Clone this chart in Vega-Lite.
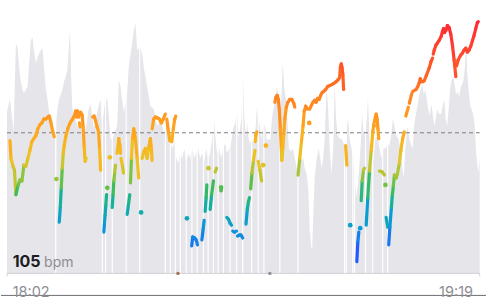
{
 "$schema": "https://vega.github.io/schema/vega-lite/v6.json",
 "width": 487, "height": 300,
 "autosize": {"type": "fit", "contains": "padding"},
 "padding": 0,
 "background": "#ffffff",
 "config": {"view": {"stroke": null}},
 "datasets": {
  "range": [
   {"i":0,"v":143.5},{"i":0.5,"v":146},{"i":1.5,"v":150},{"i":2.5,"v":141},{"i":3.35,"v":133.5},{"i":4,"v":160},{"i":4.5,"v":178.5},{"i":5.35,"v":176},{"i":6,"v":167.5},{"i":7,"v":158.5},{"i":8,"v":154},{"i":8.65,"v":153.5},{"i":9.5,"v":155},{"i":10.35,"v":156.5},{"i":11.25,"v":170},{"i":12,"v":180},{"i":12.85,"v":181.5},{"i":13.5,"v":175},{"i":14.5,"v":168.5},{"i":15.35,"v":171},{"i":16.25,"v":173.5},{"i":17,"v":175},{"i":17.85,"v":176},{"i":18.65,"v":165},{"i":19.5,"v":155},{"i":20.35,"v":150},{"i":21.15,"v":143.5},{"i":22,"v":137.5},{"i":23,"v":135},{"i":24,"v":133.5},{"i":25,"v":142.5},{"i":26.15,"v":150},{"i":27,"v":152.5},{"i":27.85,"v":155},{"i":28.65,"v":159},{"i":29.5,"v":161.5},{"i":30.35,"v":165},{"i":31,"v":175},{"i":31.65,"v":185},{"i":32.25,"v":160},{"i":32.85,"v":145},{"i":34,"v":141},{"i":35,"v":137.5},{"i":36,"v":135},{"i":37,"v":139},{"i":38,"v":136},{"i":39,"v":132.5},{"i":40,"v":137.5},{"i":41,"v":145},{"i":42,"v":147.5},{"i":42.75,"v":141},{"i":43.65,"v":135},{"i":44.5,"v":140},{"i":45.35,"v":143.5},{"i":46.25,"v":147.5},{"i":47,"v":150},{"i":47.85,"v":135},{"i":48.75,"v":145},{"i":49.5,"v":150},{"i":50.35,"v":150},{"i":51.25,"v":140},{"i":52,"v":130},{"i":53,"v":130},{"i":54,"v":132.5},{"i":55.35,"v":136.5},{"i":56.15,"v":160},{"i":57,"v":156.5},{"i":57.75,"v":150},{"i":58.65,"v":143.5},{"i":59.5,"v":147.5},{"i":60.35,"v":153.5},{"i":61.15,"v":166.5},{"i":62,"v":172.5},{"i":62.85,"v":178.5},{"i":63.65,"v":185},{"i":64.5,"v":188.5},{"i":65.35,"v":175},{"i":66.15,"v":176},{"i":67,"v":176.5},{"i":67.85,"v":172.5},{"i":68.65,"v":166.5},{"i":69.5,"v":161.5},{"i":70.35,"v":156.5},{"i":71.25,"v":151},{"i":72,"v":146.5},{"i":72.85,"v":146},{"i":73.65,"v":145},{"i":74.5,"v":141},{"i":75.35,"v":136.5},{"i":76.15,"v":137.5},{"i":77,"v":140},{"i":78,"v":136},{"i":79,"v":132.5},{"i":80,"v":137.5},{"i":81,"v":135},{"i":82,"v":130},{"i":83,"v":125},{"i":84,"v":127.5},{"i":84.5,"v":128.5},{"i":85,"v":120},{"i":86,"v":117.5},{"i":87,"v":122.5},{"i":88,"v":120},{"i":89,"v":125},{"i":90,"v":117.5},{"i":91,"v":122.5},{"i":92,"v":120},{"i":93,"v":125},{"i":94,"v":120},{"i":95,"v":122.5},{"i":96,"v":125},{"i":97,"v":120},{"i":98,"v":122.5},{"i":99,"v":117.5},{"i":100,"v":125},{"i":101,"v":120},{"i":102,"v":122.5},{"i":103,"v":130},{"i":104,"v":138.5},{"i":104.75,"v":130},{"i":105.5,"v":122.5},{"i":106.5,"v":125},{"i":107.5,"v":120},{"i":108.5,"v":125},{"i":109.5,"v":127.5},{"i":110.5,"v":122.5},{"i":111.5,"v":125},{"i":112.5,"v":127.5},{"i":113.5,"v":135},{"i":114.5,"v":137.5},{"i":115.5,"v":143.5},{"i":116.25,"v":130},{"i":117,"v":135},{"i":117.75,"v":140},{"i":118.5,"v":161.5},{"i":119.25,"v":140},{"i":120,"v":130},{"i":120.5,"v":138.5},{"i":121.25,"v":130},{"i":122,"v":127.5},{"i":123,"v":130},{"i":124,"v":127.5},{"i":125,"v":137.5},{"i":125.5,"v":146},{"i":126.25,"v":140},{"i":127,"v":136},{"i":127.75,"v":130},{"i":128.5,"v":135},{"i":129.5,"v":137.5},{"i":130.5,"v":129},{"i":131.5,"v":130},{"i":132.25,"v":129},{"i":133,"v":140},{"i":133.75,"v":145},{"i":134.5,"v":148.5},{"i":135,"v":152.5},{"i":135.5,"v":156.5},{"i":136.25,"v":150},{"i":137,"v":143.5},{"i":137.75,"v":150},{"i":138.5,"v":168.5},{"i":139.25,"v":155},{"i":140,"v":150},{"i":140.75,"v":140},{"i":141.5,"v":125},{"i":142.5,"v":123.5},{"i":143.5,"v":125},{"i":144.5,"v":120},{"i":145.5,"v":115},{"i":146.25,"v":110},{"i":147,"v":120},{"i":148,"v":119},{"i":148.75,"v":120},{"i":149.5,"v":115},{"i":150.5,"v":111.5},{"i":151.25,"v":105},{"i":152,"v":83.5},{"i":152.75,"v":75},{"i":153.25,"v":73.5},{"i":153.75,"v":90},{"i":154.5,"v":110},{"i":155.5,"v":120},{"i":156.5,"v":125},{"i":157.25,"v":120},{"i":158,"v":115},{"i":158.75,"v":120},{"i":159.5,"v":130},{"i":160.5,"v":156.5},{"i":161.25,"v":145},{"i":162,"v":125},{"i":163,"v":111.5},{"i":164,"v":130},{"i":164.5,"v":158.5},{"i":165.25,"v":140},{"i":166,"v":131.5},{"i":167,"v":130},{"i":168,"v":130},{"i":169,"v":127.5},{"i":169.75,"v":125},{"i":170.5,"v":135},{"i":171.25,"v":140},{"i":172,"v":130},{"i":173,"v":125},{"i":173.75,"v":120},{"i":174.5,"v":110},{"i":175.5,"v":100},{"i":176.5,"v":110},{"i":177.5,"v":125},{"i":178.25,"v":142.5},{"i":179,"v":132.5},{"i":180,"v":135},{"i":180.75,"v":140},{"i":181.25,"v":151},{"i":182,"v":130},{"i":183,"v":115},{"i":184,"v":120},{"i":185,"v":130},{"i":186,"v":131.5},{"i":187,"v":125},{"i":188,"v":120},{"i":189,"v":125},{"i":190,"v":125},{"i":191,"v":126.5},{"i":192,"v":126.5},{"i":193,"v":132.5},{"i":193.75,"v":140},{"i":194.5,"v":136.5},{"i":195.5,"v":131.5},{"i":196.5,"v":130},{"i":197.5,"v":125},{"i":198.5,"v":115},{"i":199.25,"v":110},{"i":200,"v":125},{"i":201,"v":136.5},{"i":202,"v":130},{"i":203,"v":126.5},{"i":203.75,"v":125},{"i":204.5,"v":137.5},{"i":205.5,"v":143.5},{"i":206.25,"v":147.5},{"i":207,"v":152.5},{"i":207.75,"v":155},{"i":208.5,"v":157.5},{"i":209.25,"v":152.5},{"i":210,"v":155},{"i":210.75,"v":150},{"i":211.5,"v":145},{"i":212.25,"v":141.5},{"i":213,"v":147.5},{"i":213.75,"v":142.5},{"i":214.5,"v":136.5},{"i":215.25,"v":140},{"i":216,"v":145},{"i":217,"v":142.5},{"i":218,"v":142.5},{"i":218.75,"v":146.5},{"i":219.5,"v":150},{"i":220.25,"v":140},{"i":221,"v":136.5},{"i":221.75,"v":145},{"i":222.5,"v":155},{"i":223.25,"v":160},{"i":224,"v":161.5},{"i":224.75,"v":157.5},{"i":225.5,"v":152.5},{"i":226.25,"v":154},{"i":227,"v":151},{"i":227.75,"v":156},{"i":228.5,"v":157.5},{"i":229.25,"v":160},{"i":230,"v":167.5},{"i":230.5,"v":180},{"i":231,"v":165},{"i":231.75,"v":155},{"i":232.5,"v":147.5},{"i":233.25,"v":145},{"i":234,"v":142.5},{"i":234.75,"v":137.5},{"i":235.5,"v":123.5},{"i":236.25,"v":116},{"i":236.75,"v":112.5},{"i":237.35,"v":120}
  ],
  "gaps": [
   {"i":24.5},{"i":47.85},{"i":49.5},{"i":52.85},{"i":59.85},{"i":66.65},{"i":79.5},{"i":82},{"i":84.5},{"i":87},{"i":90},{"i":92.85},{"i":95.5},{"i":98.65},{"i":101},{"i":103.65},{"i":106},{"i":108.65},{"i":112},{"i":115.35},{"i":118.35},{"i":122.85},{"i":126.15},{"i":129},{"i":137},{"i":146.15},{"i":169.5},{"i":170.35},{"i":173.65},{"i":174.5},{"i":180},{"i":183.65},{"i":188.65},{"i":191.15}
  ],
  "hr": [
   {"s":1,"i":1.5,"v":129},{"s":1,"i":2,"v":120},{"s":1,"i":3,"v":116},{"s":1,"i":3.75,"v":114},{"s":1,"i":4.5,"v":101.5},{"s":1,"i":5.5,"v":106},{"s":1,"i":6.5,"v":109},{"s":1,"i":7.5,"v":108.5},{"s":1,"i":8.5,"v":116.5},{"s":1,"i":9.5,"v":116},{"s":1,"i":10.5,"v":120},{"s":1,"i":11.5,"v":124},{"s":1,"i":12.5,"v":128.5},{"s":1,"i":13.5,"v":130},{"s":1,"i":14.5,"v":131.5},{"s":1,"i":15.5,"v":135},{"s":1,"i":16.5,"v":137},{"s":1,"i":17.5,"v":138},{"s":1,"i":18.5,"v":140},{"s":1,"i":19.5,"v":140},{"s":1,"i":20.5,"v":141},{"s":1,"i":21.25,"v":141.5},{"s":1,"i":22,"v":138.5},{"s":1,"i":23,"v":133.5},{"s":1,"i":23.75,"v":131},
   {"s":2,"i":26.25,"v":87.5},{"s":2,"i":26.75,"v":95},{"s":2,"i":27.25,"v":105},{"s":2,"i":27.75,"v":115},{"s":2,"i":28.25,"v":122.5},{"s":2,"i":28.75,"v":126.5},{"s":2,"i":29.5,"v":131},{"s":2,"i":30.5,"v":135},{"s":2,"i":31.5,"v":137.5},{"s":2,"i":32.25,"v":139},{"s":2,"i":33,"v":140},{"s":2,"i":33.5,"v":141},{"s":2,"i":34,"v":142},{"s":2,"i":34.5,"v":144},{"s":2,"i":35,"v":141},{"s":2,"i":35.5,"v":144},{"s":2,"i":36,"v":141},{"s":2,"i":36.5,"v":143},
   {"s":3,"i":36.35,"v":138},{"s":3,"i":36.65,"v":136},
   {"s":4,"i":37,"v":143.5},{"s":4,"i":37.75,"v":142},{"s":4,"i":38.25,"v":136},{"s":4,"i":38.75,"v":126},{"s":4,"i":39.25,"v":118.5},{"s":4,"i":39.75,"v":120},
   {"s":5,"i":43,"v":141},{"s":5,"i":43.75,"v":141.5},{"s":5,"i":44.5,"v":139},{"s":5,"i":45.25,"v":136},{"s":5,"i":46,"v":133.5},{"s":5,"i":46.5,"v":125},{"s":5,"i":47,"v":114},
   {"s":6,"i":48.65,"v":82.5},{"s":6,"i":48.95,"v":87},{"s":6,"i":49.25,"v":91},{"s":6,"i":49.6,"v":96},{"s":6,"i":50,"v":101.5},
   {"s":7,"i":52.85,"v":95},{"s":7,"i":53.25,"v":101.5},{"s":7,"i":53.65,"v":108.5},{"s":7,"i":54.1,"v":113},{"s":7,"i":54.5,"v":116.5},
   {"s":8,"i":55.25,"v":122.5},{"s":8,"i":56.15,"v":130},{"s":8,"i":56.75,"v":126},{"s":8,"i":57,"v":122.5},
   {"s":9,"i":57.25,"v":120},{"s":9,"i":58,"v":116},{"s":9,"i":58.5,"v":112.5},
   {"s":10,"i":60.35,"v":91.5},{"s":10,"i":61,"v":96.5},{"s":10,"i":61.65,"v":101.5},
   {"s":11,"i":62,"v":107.5},{"s":11,"i":62.5,"v":120},{"s":11,"i":63,"v":130},{"s":11,"i":63.65,"v":135},{"s":11,"i":64.5,"v":130},{"s":11,"i":65.35,"v":120},{"s":11,"i":66.15,"v":110},
   {"s":12,"i":67.85,"v":120},{"s":12,"i":68.75,"v":123.5},{"s":12,"i":69.5,"v":125},{"s":12,"i":70.35,"v":120},{"s":12,"i":71.25,"v":126},{"s":12,"i":72,"v":130},{"s":12,"i":72.5,"v":125},{"s":12,"i":72.85,"v":119},
   {"s":13,"i":72.9,"v":135},{"s":13,"i":73.65,"v":140},{"s":13,"i":74.5,"v":141},{"s":13,"i":75.5,"v":140.5},{"s":13,"i":76.5,"v":140},{"s":13,"i":77.5,"v":138},{"s":13,"i":78.5,"v":140},{"s":13,"i":79.5,"v":142.5},
   {"s":14,"i":80.25,"v":140},{"s":14,"i":81,"v":134},{"s":14,"i":81.75,"v":129},{"s":14,"i":82.75,"v":128.5},{"s":14,"i":83.5,"v":135},{"s":14,"i":84.25,"v":140},{"s":14,"i":84.75,"v":141.5},
   {"s":15,"i":92.75,"v":75.5},{"s":15,"i":93.25,"v":80},{"s":15,"i":94.25,"v":79.5},{"s":15,"i":95,"v":78.5},{"s":15,"i":95.65,"v":76},
   {"s":16,"i":97.85,"v":78.5},{"s":16,"i":98.5,"v":84},{"s":16,"i":99,"v":88.5},
   {"s":17,"i":99.5,"v":93},{"s":17,"i":100,"v":100},{"s":17,"i":100.35,"v":106.5},
   {"s":18,"i":102,"v":94},{"s":18,"i":102.75,"v":101.5},{"s":18,"i":103.65,"v":108.5},
   {"s":19,"i":104.5,"v":113},{"s":19,"i":105.25,"v":115},
   {"s":20,"i":107.15,"v":105.5},{"s":20,"i":107.5,"v":103.5},{"s":20,"i":107.85,"v":105.5},
   {"s":21,"i":110.35,"v":90},{"s":21,"i":111.25,"v":89},{"s":21,"i":112,"v":87},{"s":21,"i":112.75,"v":86},
   {"s":22,"i":113.35,"v":83},{"s":22,"i":114.25,"v":82.5},{"s":22,"i":115.25,"v":83},
   {"s":23,"i":115.75,"v":80.5},{"s":23,"i":116.75,"v":81},{"s":23,"i":117.5,"v":81},{"s":23,"i":118.35,"v":79.5},
   {"s":24,"i":120,"v":86.5},{"s":24,"i":120.65,"v":94},{"s":24,"i":121.25,"v":98},{"s":24,"i":121.75,"v":100},
   {"s":25,"i":122.35,"v":104.5},{"s":25,"i":123,"v":112.5},{"s":25,"i":123.75,"v":119},{"s":25,"i":124.5,"v":124},
   {"s":26,"i":124.65,"v":128.5},{"s":26,"i":125,"v":132},{"s":26,"i":125.5,"v":133.5},
   {"s":27,"i":126.15,"v":118.5},{"s":27,"i":127,"v":114},{"s":27,"i":127.85,"v":108.5},
   {"s":28,"i":134.5,"v":148.5},{"s":28,"i":135,"v":151},{"s":28,"i":135.65,"v":152},{"s":28,"i":136.25,"v":150},{"s":28,"i":136.75,"v":145},{"s":28,"i":137.25,"v":135},{"s":28,"i":137.75,"v":125},{"s":28,"i":138,"v":119},{"s":28,"i":138.5,"v":125},{"s":28,"i":139,"v":132.5},{"s":28,"i":139.5,"v":140},{"s":28,"i":140.25,"v":146},{"s":28,"i":141,"v":148.5},{"s":28,"i":142,"v":150},{"s":28,"i":143,"v":150},{"s":28,"i":144,"v":148},{"s":28,"i":144.5,"v":146},
   {"s":29,"i":146.15,"v":111.5},{"s":29,"i":147,"v":120},{"s":29,"i":147.85,"v":128.5},{"s":29,"i":148.65,"v":136.5},{"s":29,"i":149.25,"v":144},{"s":29,"i":150,"v":146.5},{"s":29,"i":150.85,"v":145},
   {"s":30,"i":152,"v":145},{"s":30,"i":152.85,"v":147},{"s":30,"i":153.65,"v":148.5},{"s":30,"i":154.5,"v":149.5},{"s":30,"i":155.25,"v":148.5},{"s":30,"i":156,"v":150.5},{"s":30,"i":156.75,"v":150},{"s":30,"i":157.5,"v":152},{"s":30,"i":158.25,"v":153.5},{"s":30,"i":159,"v":154},{"s":30,"i":160,"v":155},{"s":30,"i":161,"v":156.5},{"s":30,"i":162,"v":157},{"s":30,"i":163,"v":157.5},{"s":30,"i":164,"v":158},{"s":30,"i":165.25,"v":159},{"s":30,"i":166.25,"v":160},{"s":30,"i":167,"v":161},{"s":30,"i":167.4,"v":166.5},{"s":30,"i":167.85,"v":168},{"s":30,"i":168.25,"v":166},{"s":30,"i":168.65,"v":162.5},{"s":30,"i":169,"v":155},
   {"s":31,"i":170,"v":126.5},{"s":31,"i":170.65,"v":116.5},
   {"s":32,"i":175.65,"v":67.5},{"s":32,"i":176.15,"v":77.5},{"s":32,"i":176.65,"v":82.5},
   {"s":33,"i":177.85,"v":98.5},{"s":33,"i":178.35,"v":108.5},{"s":33,"i":179,"v":114},{"s":33,"i":179.5,"v":115},
   {"s":34,"i":180.35,"v":86},{"s":34,"i":181.15,"v":100},{"s":34,"i":182,"v":113.5},{"s":34,"i":182.85,"v":123.5},{"s":34,"i":183.65,"v":133.5},{"s":34,"i":184.5,"v":139},{"s":34,"i":185.35,"v":142.5},{"s":34,"i":185.85,"v":140},{"s":34,"i":186.25,"v":135},{"s":34,"i":186.65,"v":130},
   {"s":35,"i":184,"v":137},{"s":35,"i":184.5,"v":136.5},
   {"s":36,"i":187,"v":113.5},{"s":36,"i":188.25,"v":113.25},{"s":36,"i":189.5,"v":111.5},
   {"s":37,"i":190.35,"v":90},{"s":37,"i":191.15,"v":85},
   {"s":38,"i":191.65,"v":76},{"s":38,"i":192.25,"v":85},{"s":38,"i":193,"v":95},{"s":38,"i":193.5,"v":101.5},{"s":38,"i":194,"v":106},{"s":38,"i":194.5,"v":111.5},{"s":38,"i":195.35,"v":110},{"s":38,"i":196,"v":112},{"s":38,"i":197,"v":117.5},{"s":38,"i":197.75,"v":124},{"s":38,"i":198.65,"v":130},{"s":38,"i":199.5,"v":133.5},
   {"s":39,"i":200.25,"v":141.5},{"s":39,"i":201.5,"v":146},
   {"s":40,"i":202,"v":148},{"s":40,"i":203.25,"v":153},
   {"s":41,"i":203.75,"v":154},{"s":41,"i":205.35,"v":155},{"s":41,"i":206.25,"v":156.5},{"s":41,"i":207,"v":158.5},{"s":41,"i":207.5,"v":160.5},{"s":41,"i":208,"v":159},{"s":41,"i":208.75,"v":159},{"s":41,"i":209.5,"v":159.5},{"s":41,"i":210.5,"v":162},{"s":41,"i":212,"v":166},{"s":41,"i":212.85,"v":169},{"s":41,"i":213.65,"v":171},
   {"s":42,"i":214,"v":173},{"s":42,"i":214.5,"v":175},{"s":42,"i":215.35,"v":177.5},{"s":42,"i":216,"v":178.5},{"s":42,"i":217,"v":180},{"s":42,"i":218,"v":182},{"s":42,"i":218.65,"v":184.5},{"s":42,"i":219.15,"v":186},{"s":42,"i":219.65,"v":184},{"s":42,"i":220.35,"v":185},{"s":42,"i":221.15,"v":187.5},{"s":42,"i":222,"v":186.5},{"s":42,"i":222.85,"v":183},{"s":42,"i":223.65,"v":177.5},{"s":42,"i":224.5,"v":170},{"s":42,"i":225.35,"v":161.5},
   {"s":43,"i":225.75,"v":167},{"s":43,"i":226.5,"v":170},{"s":43,"i":227.85,"v":172.5},{"s":43,"i":228.65,"v":173.5},{"s":43,"i":229.5,"v":175},{"s":43,"i":230.35,"v":176},{"s":43,"i":231.15,"v":174},{"s":43,"i":232,"v":175},{"s":43,"i":232.85,"v":177},{"s":43,"i":233.75,"v":180},{"s":43,"i":234.5,"v":182.5},{"s":43,"i":235.35,"v":186},{"s":43,"i":236.15,"v":189},{"s":43,"i":236.65,"v":189.5}
  ],
  "dots": [
   {"i":24.85,"v":109.5},{"i":50.35,"v":105},{"i":51.65,"v":120.5},{"i":67.35,"v":92.5},{"i":90.35,"v":89.5},{"i":101.15,"v":115},{"i":130,"v":126.5},{"i":128.65,"v":116.5},{"i":151.75,"v":138},{"i":172.35,"v":86},{"i":177.35,"v":84.5},{"i":190,"v":106.5}
  ],
  "events": [
   {"i":85.85,"v":61.5,"kind":"workout"},{"i":132,"v":61.5,"kind":"note"}
  ],
  "labels": [
   {"i":2.85,"v":64.65,"label":"105","role":"value"},
   {"i":18.65,"v":64.65,"label":"bpm","role":"unit"},
   {"i":2.85,"v":49.6,"label":"18:02","role":"start"},
   {"i":234,"v":49.6,"label":"19:19","role":"end"}
  ]
 },
 "layer": [
  {
   "data": {"name": "range"},
   "mark": {"type": "area", "color": "#e5e5ea", "interpolate": "linear"},
   "encoding": {
    "x": {"field": "i", "type": "quantitative", "scale": {"domain": [-3, 240.5], "nice": false, "zero": false}, "axis": null},
    "y": {"field": "v", "type": "quantitative", "scale": {"domain": [50, 200], "nice": false, "zero": false}, "axis": null, "stack": null},
    "y2": {"datum": 61.5}
   }
  },
  {
   "data": {"name": "gaps"},
   "mark": {"type": "rule", "color": "#ffffff", "strokeWidth": 1.2},
   "encoding": {
    "x": {"field": "i", "type": "quantitative"},
    "y": {"datum": 61.5},
    "y2": {"datum": 200}
   }
  },
  {
   "data": {"values": [{"i": 0, "i2": 237.35, "v": 61.5}]},
   "mark": {"type": "rule", "color": "#d1d1d6", "strokeWidth": 1},
   "encoding": {
    "x": {"field": "i", "type": "quantitative"},
    "x2": {"field": "i2"},
    "y": {"field": "v", "type": "quantitative"}
   }
  },
  {
   "data": {"values": [{"i": 0}, {"i": 237.35}]},
   "mark": {"type": "rule", "color": "#d1d1d6", "strokeWidth": 1},
   "encoding": {
    "x": {"field": "i", "type": "quantitative"},
    "y": {"datum": 61.5},
    "y2": {"datum": 60}
   }
  },
  {
   "data": {"values": [{"i": 0, "i2": 237.35, "v": 133}]},
   "mark": {"type": "rule", "color": "#7c7c80", "strokeWidth": 1, "strokeDash": [4, 3]},
   "encoding": {
    "x": {"field": "i", "type": "quantitative"},
    "x2": {"field": "i2"},
    "y": {"field": "v", "type": "quantitative"}
   }
  },
  {
   "data": {"name": "hr"},
   "transform": [
    {"window": [{"op": "lead", "field": "i", "as": "i2"}, {"op": "lead", "field": "v", "as": "v2"}], "groupby": ["s"], "sort": [{"field": "i", "order": "ascending"}]},
    {"filter": "isValid(datum.i2)"}
   ],
   "mark": {"type": "rule", "strokeWidth": 3.2, "strokeCap": "round"},
   "encoding": {
    "x": {"field": "i", "type": "quantitative"},
    "x2": {"field": "i2"},
    "y": {"field": "v", "type": "quantitative"},
    "y2": {"field": "v2"},
    "color": {"field": "v", "type": "quantitative", "legend": null,
     "scale": {"domain": [75, 85, 95, 102, 110, 118, 128, 140, 152, 165, 180], "range": ["#1976f0", "#0a9bd6", "#14b29a", "#3fbd55", "#9cc63a", "#e9c425", "#fbb11f", "#ff9b1f", "#ff8020", "#ff5a26", "#ff3b30"], "interpolate": "rgb"}}
   }
  },
  {
   "data": {"name": "dots"},
   "mark": {"type": "circle", "size": 22, "opacity": 1},
   "encoding": {
    "x": {"field": "i", "type": "quantitative"},
    "y": {"field": "v", "type": "quantitative"},
    "color": {"field": "v", "type": "quantitative", "legend": null}
   }
  },
  {
   "data": {"name": "events"},
   "mark": {"type": "circle", "size": 12, "opacity": 1},
   "encoding": {
    "x": {"field": "i", "type": "quantitative"},
    "y": {"field": "v", "type": "quantitative"},
    "fill": {"field": "kind", "type": "nominal", "legend": null, "scale": {"domain": ["workout", "note"], "range": ["#a0714f", "#8e8e93"]}}
   }
  },
  {
   "data": {"values": [{"i": -3, "i2": 240.5, "v": 50.3}]},
   "mark": {"type": "rule", "color": "#6e6e73", "strokeWidth": 1},
   "encoding": {
    "x": {"field": "i", "type": "quantitative"},
    "x2": {"field": "i2"},
    "y": {"field": "v", "type": "quantitative"}
   }
  },
  {
   "data": {"name": "labels"},
   "transform": [{"filter": "datum.role == 'value'"}],
   "mark": {"type": "text", "align": "left", "baseline": "alphabetic", "font": "Inter", "fontSize": 16, "fontWeight": "bold", "color": "#1c1c1e"},
   "encoding": {"x": {"field": "i", "type": "quantitative"}, "y": {"field": "v", "type": "quantitative"}, "text": {"field": "label"}}
  },
  {
   "data": {"name": "labels"},
   "transform": [{"filter": "datum.role == 'unit'"}],
   "mark": {"type": "text", "align": "left", "baseline": "alphabetic", "font": "Inter", "fontSize": 14, "color": "#8e8e93"},
   "encoding": {"x": {"field": "i", "type": "quantitative"}, "y": {"field": "v", "type": "quantitative"}, "text": {"field": "label"}}
  },
  {
   "data": {"name": "labels"},
   "transform": [{"filter": "datum.role == 'start'"}],
   "mark": {"type": "text", "align": "left", "baseline": "alphabetic", "font": "Inter", "fontSize": 14.5, "color": "#8e8e93"},
   "encoding": {"x": {"field": "i", "type": "quantitative"}, "y": {"field": "v", "type": "quantitative"}, "text": {"field": "label"}}
  },
  {
   "data": {"name": "labels"},
   "transform": [{"filter": "datum.role == 'end'"}],
   "mark": {"type": "text", "align": "right", "baseline": "alphabetic", "font": "Inter", "fontSize": 14.5, "color": "#8e8e93"},
   "encoding": {"x": {"field": "i", "type": "quantitative"}, "y": {"field": "v", "type": "quantitative"}, "text": {"field": "label"}}
  }
 ]
}
